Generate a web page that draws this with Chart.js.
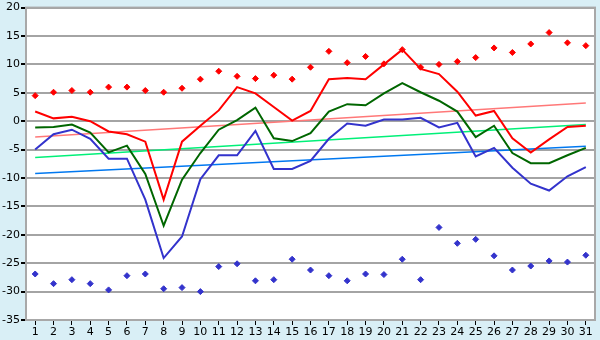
<!DOCTYPE html>
<html>
<head>
<meta charset="utf-8">
<script src="https://cdn.jsdelivr.net/npm/chart.js@4/dist/chart.umd.min.js"></script>
<style>
  html, body { margin: 0; padding: 0; background: #d9eff6; }
  canvas { display: block; }
</style>
</head>
<body>
<canvas id="chart" width="600" height="340"></canvas>
<script>
// days of the month
const days = Array.from({ length: 31 }, (_, i) => String(i + 1));

// daily values
const maxTemp = [1.7, 0.5, 0.8, 0.0, -1.8, -2.3, -3.6, -13.8, -3.6, -0.8,
  1.9, 6.0, 4.9, 2.5, 0.1, 1.8, 7.4, 7.6, 7.4, 10.0,
  12.6, 9.2, 8.3, 5.2, 1.0, 1.8, -3.0, -5.5, -3.2, -1.0, -0.8];
const meanTemp = [-1.1, -1.0, -0.6, -2.0, -5.5, -4.3, -9.3, -18.4, -10.3, -5.6,
  -1.5, 0.2, 2.4, -3.0, -3.5, -2.1, 1.7, 3.0, 2.8, 4.9,
  6.7, 5.1, 3.6, 1.7, -2.8, -0.8, -5.6, -7.4, -7.4, -6.0, -4.7];
const minTemp = [-5.0, -2.3, -1.5, -3.1, -6.6, -6.6, -13.8, -24.1, -20.3, -10.2,
  -6.0, -6.0, -1.7, -8.4, -8.4, -7.0, -3.1, -0.4, -0.8, 0.3,
  0.3, 0.6, -1.1, -0.3, -6.2, -4.7, -8.2, -11.0, -12.2, -9.7, -8.1];
const recordMax = [4.5, 5.1, 5.4, 5.1, 6.0, 6.0, 5.4, 5.1, 5.8, 7.4,
  8.8, 7.9, 7.5, 8.1, 7.4, 9.5, 12.3, 10.3, 11.4, 10.1,
  12.6, 9.5, 10.0, 10.5, 11.2, 12.9, 12.1, 13.6, 15.6, 13.8, 13.3];
const recordMin = [-26.9, -28.6, -27.9, -28.6, -29.7, -27.2, -26.9, -29.5, -29.3, -30.0,
  -25.6, -25.1, -28.1, -27.9, -24.3, -26.2, -27.2, -28.1, -26.9, -27.0,
  -24.3, -27.9, -18.7, -21.5, -20.8, -23.7, -26.2, -25.5, -24.6, -24.8, -23.6];

// trend lines: value on day 1 and on day 31
const maxTrend = [-2.8, 3.2];
const meanTrend = [-6.4, -0.6];
const minTrend = [-9.2, -4.4];

function trend(ends) {
  return [{ x: days[0], y: ends[0] }, { x: days[days.length - 1], y: ends[1] }];
}

// white plot area with a gray frame
const plotFrame = {
  id: 'plotFrame',
  beforeDraw(c) {
    const a = c.chartArea, ctx = c.ctx;
    ctx.save();
    ctx.fillStyle = '#ffffff';
    ctx.fillRect(a.left, a.top, a.right - a.left, a.bottom - a.top);
    ctx.restore();
  },
  afterDraw(c) {
    const a = c.chartArea, ctx = c.ctx;
    ctx.save();
    ctx.strokeStyle = '#a8a8a8';
    ctx.lineWidth = 2;
    ctx.strokeRect(a.left, a.top, a.right - a.left, a.bottom - a.top);
    ctx.restore();
  }
};

const line = (data, color, order) => ({
  data: data, borderColor: color, backgroundColor: color,
  borderWidth: 2, pointRadius: 0, tension: 0, order: order
});
const thin = (data, color) => ({
  data: data, borderColor: color, borderWidth: 1.5, pointRadius: 0, order: 5
});
const dots = (data, color) => ({
  data: data, showLine: false, borderColor: color, backgroundColor: color,
  pointStyle: 'rectRot', pointRadius: 3, borderWidth: 1, order: 0
});

Chart.defaults.font.family = 'DejaVu Sans';
Chart.defaults.font.size = 11;
Chart.defaults.color = '#000';

new Chart(document.getElementById('chart'), {
  type: 'line',
  data: {
    labels: days,
    datasets: [
      thin(trend(maxTrend), '#ff7878'),
      thin(trend(meanTrend), '#00f078'),
      thin(trend(minTrend), '#0078f0'),
      line(maxTemp, '#ff0000', 1),
      line(meanTemp, '#006600', 2),
      line(minTemp, '#3333cc', 3),
      dots(recordMax, '#ff0000'),
      dots(recordMin, '#3333cc')
    ]
  },
  options: {
    responsive: false,
    animation: false,
    layout: { padding: { top: 4, right: 4, left: 0, bottom: 0 } },
    plugins: { legend: { display: false }, tooltip: { enabled: false } },
    scales: {
      x: {
        offset: true,
        grid: { drawOnChartArea: false, tickLength: 5, tickColor: '#000', offset: false },
        border: { display: false },
        ticks: { padding: 1, maxRotation: 0, autoSkip: false },
        afterFit(s) { s.height = 20; }
      },
      y: {
        min: -35, max: 20,
        grid: { color: '#a4a4a4', lineWidth: 2, tickLength: 5, tickColor: '#000' },
        border: { display: false },
        ticks: { stepSize: 5, padding: 1 },
        afterFit(s) { s.width = 26; }
      }
    }
  },
  plugins: [plotFrame]
});
</script>
</body>
</html>
